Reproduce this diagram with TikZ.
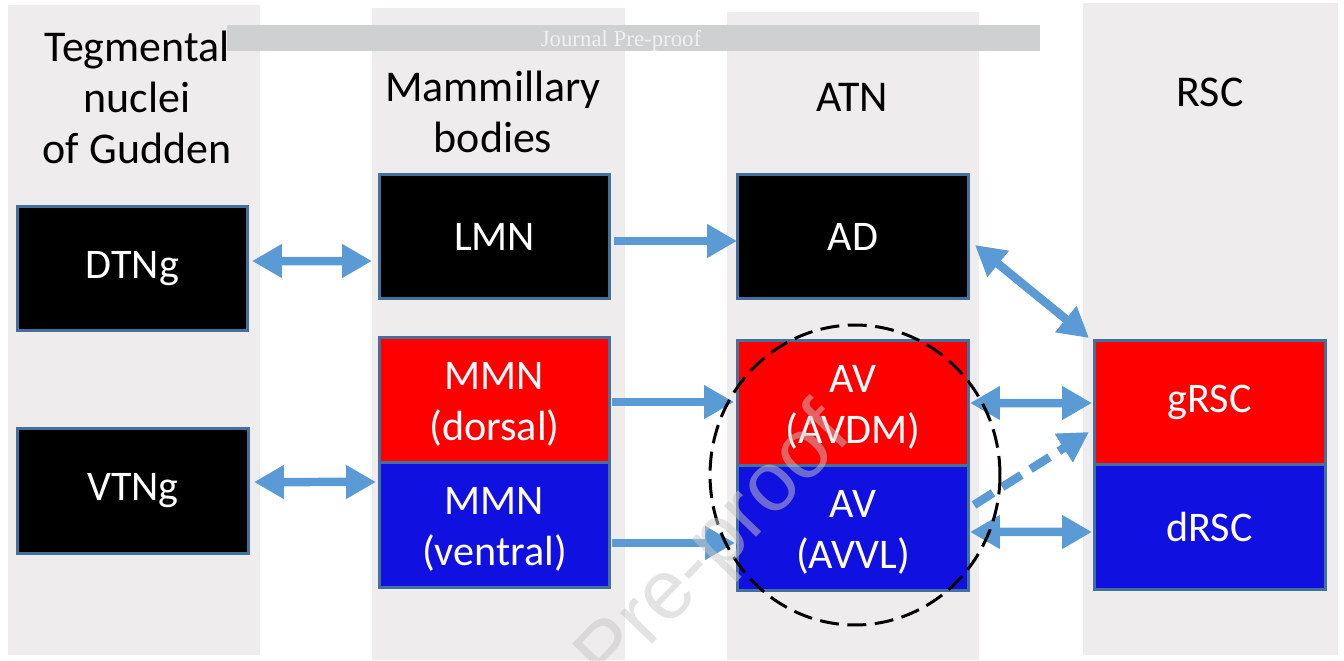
\documentclass[tikz,border=0pt]{standalone}
\usepackage{fontspec}
\setmainfont{Carlito}
\newfontfamily\serifmark{Liberation Serif}
\newfontfamily\sansmark{Liberation Sans}
\usetikzlibrary{positioning,arrows.meta}

\definecolor{colbg}{RGB}{238,236,236}
\definecolor{bannergray}{RGB}{206,208,210}
\definecolor{borderblue}{RGB}{65,113,156}
\definecolor{arrowblue}{RGB}{91,155,213}
\definecolor{boxred}{RGB}{255,0,0}
\definecolor{boxblue}{RGB}{16,16,224}

\begin{document}
\begin{tikzpicture}[x=0.02cm, y=-0.02cm,
    areanode/.style={rectangle, draw=borderblue, line width=0.06cm, outer sep=0pt, inner sep=0pt, minimum width=4.62cm, minimum height=2.5cm, align=center, text=white, font=\fontsize{24}{29}\selectfont},
    blackbox/.style={areanode, fill=black},
    redbox/.style={areanode, fill=boxred},
    bluebox/.style={areanode, fill=boxblue},
    titlenode/.style={align=center, font=\fontsize{25}{29}\selectfont},
    biarrow/.style={draw=arrowblue, line width=0.17cm, {Triangle[length=0.6cm,width=0.64cm]}-{Triangle[length=0.6cm,width=0.64cm]}},
    onearrow/.style={draw=arrowblue, line width=0.17cm, -{Triangle[length=0.6cm,width=0.64cm]}},
    ]
    \useasboundingbox (0,0) rectangle (1344,660);

    %Columns
    \fill[colbg] (8,5) rectangle (260,655);
    \fill[colbg] (372,8) rectangle (625,660);
    \fill[colbg] (727,12) rectangle (979,660);
    \fill[colbg] (1083,3) rectangle (1338,655);

    %Banner
    \node[fill=bannergray, minimum width=16.26cm, minimum height=0.52cm, inner sep=0pt] (banner) at (633.5,38) {};
    \node[text=white!94!black, font=\serifmark\fontsize{13}{15}\selectfont, anchor=base] (bannertext) at (621,46) {Journal Pre-proof};

    %Titles
    \node[titlenode] (tgntitle) at (137,97)  {Tegmental\\nuclei\\of Gudden};
    \node[titlenode] (mbtitle)  at (493,112) {Mammillary\\bodies};
    \node[titlenode] (atntitle) at (852,97)  {ATN};
    \node[titlenode] (rsctitle) at (1210,92) {RSC};

    %Nodes
    \node[blackbox] (dtng) at (132.5,268.5) {DTNg};
    \node[blackbox] (vtng) at (133,490.5)   {VTNg};
    \node[blackbox] (lmn)  at (494.5,236.5) {LMN};
    \node[redbox]   (mmnd) at (494.5,400)   {\strut MMN\\(dorsal)};
    \node[bluebox]  (mmnv) [below=0pt of mmnd] {\strut MMN\\(ventral)};
    \node[blackbox] (ad)   at (853,236.5)   {AD};
    \node[redbox]   (avdm) at (853,403)     {\strut AV\\(AVDM)};
    \node[bluebox]  (avvl) [below=0pt of avdm] {\strut AV\\(AVVL)};
    \node[redbox]   (grsc) at (1209.5,402.5) {gRSC};
    \node[bluebox]  (drsc) [below=0pt of grsc] {dRSC};

    %Lines
    \draw[biarrow] ([shift={(4,-7.5)}]dtng.east) -- ([shift={(-7,24.5)}]lmn.west);
    \draw[biarrow] ([shift={(5.5,-8.5)}]vtng.east) -- ([shift={(-3,-43)}]mmnv.west);
    \draw[onearrow] ([shift={(4,4.5)}]lmn.east) -- ([shift={(-0.5,4.5)}]ad.west);
    \draw[onearrow] ([shift={(2,2)}]mmnd.east) -- ([shift={(-3.5,-1)}]avdm.west);
    \draw[onearrow] ([shift={(2,18)}]mmnv.east) -- ([shift={(-2.5,15)}]avvl.west);
    \draw[biarrow] ([shift={(6.5,8.5)}]ad.east) -- ([shift={(-5,-2)}]grsc.north west);
    \draw[biarrow] ([shift={(1.5,0)}]avdm.east) -- ([shift={(-2,0.5)}]grsc.west);
    \draw[onearrow, dash pattern=on 0.45cm off 0.22cm] ([shift={(5.5,-23)}]avvl.east) -- ([shift={(-5,29.5)}]grsc.west);
    \draw[biarrow] ([shift={(1.5,4)}]avvl.east) -- ([shift={(-2,4.5)}]drsc.west);

    %AV group
    \draw[black, line width=0.06cm, dash pattern=on 0.38cm off 0.17cm] (855,475) ellipse [x radius=2.9cm, y radius=3cm];

    %Watermark
    \begin{scope}
      \clip (0,0) rectangle (1344,660);
      \node[rotate=46, anchor=base east, text=black!22, opacity=0.5, font=\sansmark\fontsize{48}{58}\selectfont] (mark) at (858,432) {Journal Pre-proof};
    \end{scope}
\end{tikzpicture}
\end{document}
